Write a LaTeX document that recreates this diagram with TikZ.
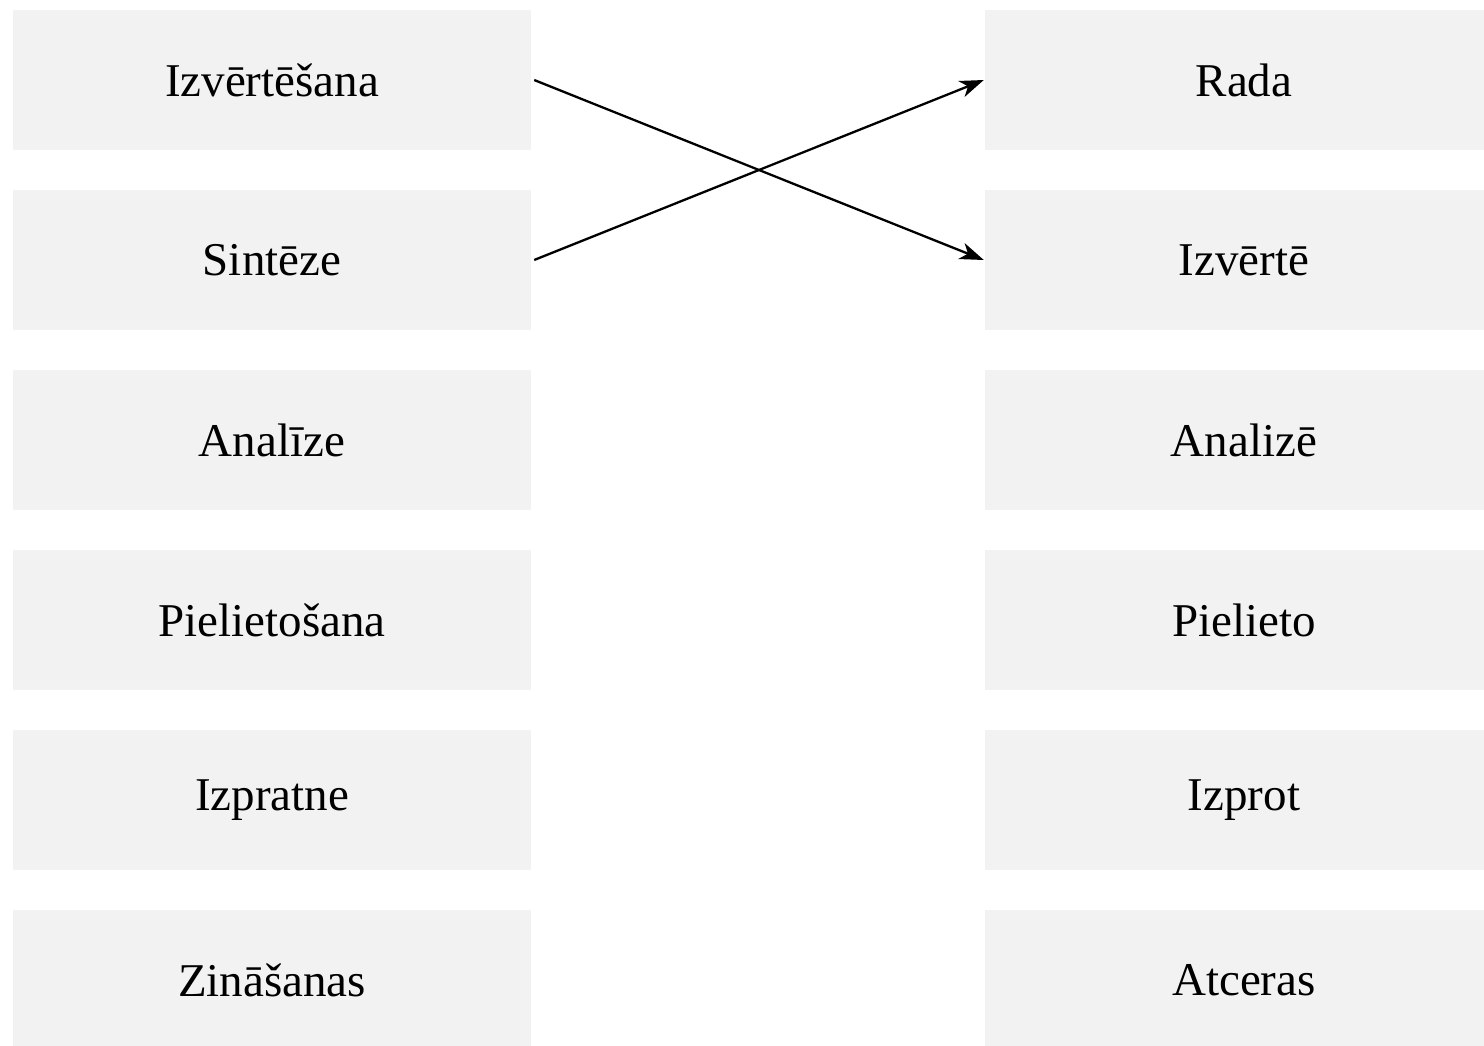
\documentclass[tikz,border=0pt]{standalone}
\usepackage{fontspec}
\setmainfont{Liberation Serif}
\usetikzlibrary{arrows.meta}
\definecolor{boxgray}{RGB}{242,242,242}
\begin{document}
\begin{tikzpicture}[x=1pt,y=-1pt,
  levelbox/.style={fill=boxgray,draw=none,minimum width=518pt,minimum height=140pt,inner sep=0pt,
    font=\fontsize{47}{56}\selectfont},
  arr/.style={line width=2.3pt,-{Stealth[length=24pt,width=17pt,inset=7pt]}}]
\useasboundingbox (0,0) rectangle (1484,1045);
\clip (0,0) rectangle (1484,1045);
\fill[white] (0,0) rectangle (1484,1045);
\node[levelbox] (L1) at (272,80) {Izvērtēšana};
\node[levelbox] (L2) at (272,260) {Sintēze};
\node[levelbox] (L3) at (272,440) {Analīze};
\node[levelbox] (L4) at (272,620) {Pielietošana};
\node[levelbox] (L5) at (272,800) {Izpratne};
\node[levelbox] (L6) at (272,980) {Zināšanas};
\node[levelbox] (R1) at (1244,80) {Rada};
\node[levelbox] (R2) at (1244,260) {Izvērtē};
\node[levelbox] (R3) at (1244,440) {Analizē};
\node[levelbox] (R4) at (1244,620) {Pielieto};
\node[levelbox] (R5) at (1244,800) {Izprot};
\node[levelbox] (R6) at (1244,980) {Atceras};
\draw[arr] ([xshift=3pt]L1.east) -- ([xshift=-1pt]R2.west);
\draw[arr] ([xshift=3pt]L2.east) -- ([xshift=-1pt]R1.west);
\end{tikzpicture}
\end{document}
